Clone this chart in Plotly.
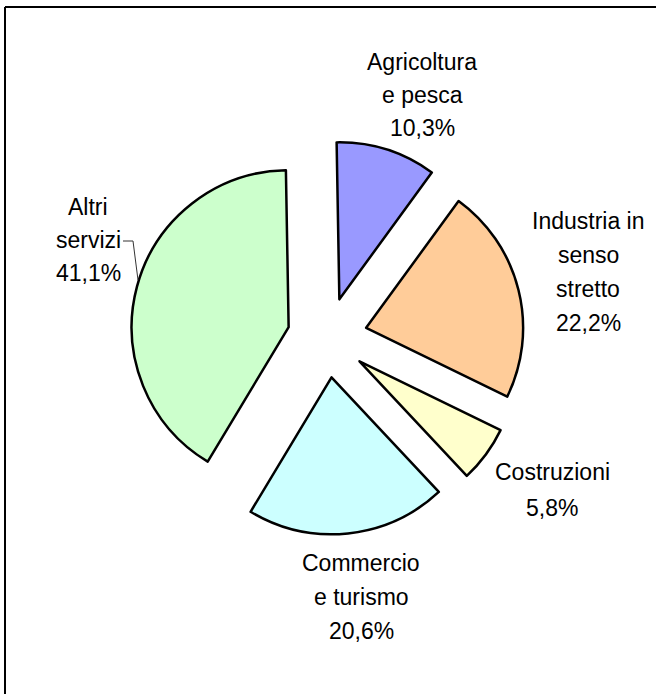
import plotly.graph_objects as go

# ---- data ----
categories = ["Agricoltura e pesca", "Industria in senso stretto", "Costruzioni",
              "Commercio e turismo", "Altri servizi"]
values = [10.3, 22.2, 5.8, 20.6, 41.1]
colors = ["#9999FF", "#FFCC99", "#FFFFCC", "#CCFFFF", "#CCFFCC"]
label_lines = [["Agricoltura", "e pesca"],
               ["Industria in", "senso", "stretto"],
               ["Costruzioni"],
               ["Commercio", "e turismo"],
               ["Altri", "servizi"]]

W, H = 656, 694

# label layout (pixel centres of the first line, line spacing)
label_pos = [(422, 62, 33), (588, 221, 34), (552, 472, 36), (361, 563, 34), (88, 207, 33)]

fig = go.Figure(go.Pie(
    labels=categories, values=values, sort=False, direction="clockwise",
    rotation=-1, pull=[0.255] * len(values),
    marker=dict(colors=colors, line=dict(color="black", width=2.5)),
    textinfo="none", hoverinfo="label+percent", showlegend=False,
    domain=dict(x=[130.3 / W, 524.3 / W], y=[159.5 / H, 553.5 / H]),
))

annotations = []
for lines, v, (cx, cy, sp) in zip(label_lines, values, label_pos):
    pct = f"{v:.1f}".replace(".", ",") + "%"
    for i, t in enumerate(lines + [pct]):
        annotations.append(dict(
            x=cx / W, y=1 - (cy + i * sp) / H, xref="paper", yref="paper",
            text=t, showarrow=False, xanchor="center", yanchor="middle",
            font=dict(family="Liberation Sans, Arial, sans-serif", size=23, color="black"),
        ))

shapes = [
    # outer frame (top and left edges visible)
    dict(type="line", xref="paper", yref="paper", x0=5 / W, x1=1.02, y0=1 - 7 / H, y1=1 - 7 / H,
         line=dict(color="black", width=2)),
    dict(type="line", xref="paper", yref="paper", x0=5 / W, x1=5 / W, y0=1 - 7 / H, y1=-0.02,
         line=dict(color="black", width=2)),
    # leader line for "Altri servizi"
    dict(type="path", xref="paper", yref="paper",
         path=f"M {123 / W},{1 - 241 / H} L {133 / W},{1 - 241 / H} L {138 / W},{1 - 280 / H}",
         line=dict(color="#333333", width=1)),
]

fig.update_layout(
    width=W, height=H, margin=dict(l=0, r=0, t=0, b=0),
    paper_bgcolor="white", plot_bgcolor="white",
    annotations=annotations, shapes=shapes,
)

fig.write_html("out.html", config={"displayModeBar": False},
               post_script="document.body.style.margin='0px';document.body.style.overflow='hidden';")
